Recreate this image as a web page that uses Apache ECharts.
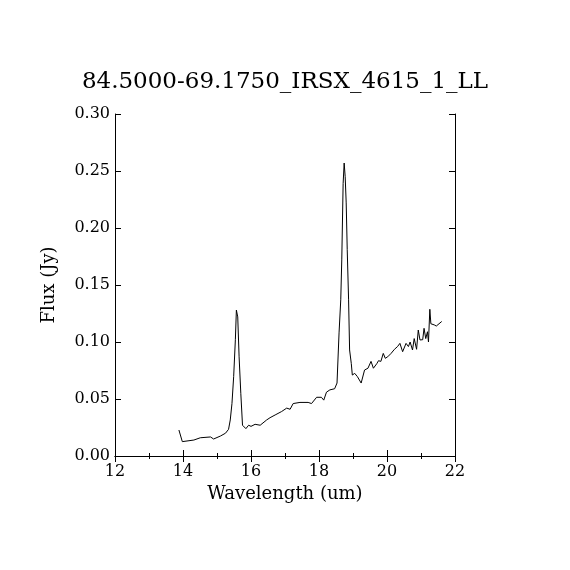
<!DOCTYPE html>
<html>
<head>
<meta charset="utf-8">
<script src="https://cdn.jsdelivr.net/npm/echarts@6/dist/echarts.min.js"></script>
<style>
  html, body { margin: 0; padding: 0; background: #fff; }
  #chart { width: 570px; height: 570px; }
</style>
</head>
<body>
<div id="chart"></div>
<script>
// Spectrum
const wavelength = [
  13.88, 13.98, 14.32, 14.51, 14.81, 14.90, 15.10, 15.25, 15.34, 15.39,
  15.44, 15.49, 15.54, 15.57, 15.61, 15.65, 15.70, 15.75, 15.85, 15.93,
  16.00, 16.12, 16.27, 16.46, 16.56, 16.71, 16.76, 16.90, 17.05, 17.15,
  17.24, 17.44, 17.68, 17.78, 17.93, 18.07, 18.14, 18.22, 18.32, 18.46,
  18.53, 18.59, 18.64, 18.67, 18.71, 18.74, 18.77, 18.80, 18.83, 18.87,
  18.90, 18.95, 18.98, 19.05, 19.13, 19.24, 19.34, 19.44, 19.48, 19.53,
  19.60, 19.70, 19.75, 19.82, 19.89, 19.95, 20.02, 20.12, 20.22, 20.31,
  20.38, 20.46, 20.56, 20.63, 20.68, 20.75, 20.80, 20.87, 20.92, 20.97,
  21.05, 21.09, 21.14, 21.19, 21.22, 21.26, 21.29, 21.39, 21.45, 21.61,
];
const flux = [
  0.0228, 0.0126, 0.0140, 0.0160, 0.0167, 0.0149, 0.0175, 0.0200, 0.0234, 0.0316,
  0.0460, 0.0696, 0.1020, 0.1280, 0.1220, 0.0870, 0.0550, 0.0270, 0.0240, 0.0270,
  0.0260, 0.0278, 0.0270, 0.0316, 0.0336, 0.0360, 0.0374, 0.0390, 0.0420, 0.0410,
  0.0460, 0.0470, 0.0470, 0.0460, 0.0515, 0.0515, 0.0490, 0.0560, 0.0580, 0.0590,
  0.0640, 0.1080, 0.1370, 0.1720, 0.2390, 0.2570, 0.2450, 0.2220, 0.1810, 0.1370,
  0.0930, 0.0810, 0.0710, 0.0725, 0.0696, 0.0640, 0.0754, 0.0770, 0.0780, 0.0830,
  0.0770, 0.0810, 0.0836, 0.0830, 0.0900, 0.0857, 0.0870, 0.0900, 0.0936, 0.0960,
  0.0988, 0.0915, 0.0988, 0.0960, 0.1000, 0.0930, 0.1030, 0.0936, 0.1105, 0.1018,
  0.1020, 0.1120, 0.1030, 0.1090, 0.1000, 0.1287, 0.1160, 0.1150, 0.1140, 0.1180,
];
const titleText = "84.5000-69.1750_IRSX_4615_1_LL";

const FONT = "DejaVu Serif";
const lineStyle = { color: "#000", width: 1 };

const chart = echarts.init(document.getElementById("chart"));

chart.setOption({
  animation: false,
  backgroundColor: "#fff",
  title: {
    text: titleText,
    left: "center",
    top: 66,
    textStyle: { fontFamily: FONT, fontSize: 23, fontWeight: "normal", color: "#000" },
  },
  grid: { left: 115, right: 115, top: 114, bottom: 114 },
  xAxis: [
    {
      type: "value",
      min: 12,
      max: 22,
      interval: 2,
      position: "bottom",
      name: "Wavelength (um)",
      nameLocation: "middle",
      nameGap: 29,
      nameTextStyle: { fontFamily: FONT, fontSize: 18, color: "#000" },
      axisLine: { lineStyle },
      axisTick: { inside: true, length: 6, lineStyle },
      minorTick: { show: true, splitNumber: 2, length: 3, lineStyle },
      axisLabel: { fontFamily: FONT, fontSize: 16, color: "#000", margin: 8 },
      splitLine: { show: false },
    },
    {
      type: "value",
      min: 12,
      max: 22,
      interval: 2,
      position: "top",
      axisLine: { lineStyle },
      axisTick: { inside: true, length: 6, lineStyle },
      minorTick: { show: true, splitNumber: 2, length: 3, lineStyle },
      axisLabel: { show: false },
      splitLine: { show: false },
    },
  ],
  yAxis: [
    {
      type: "value",
      min: 0,
      max: 0.3,
      interval: 0.05,
      position: "left",
      name: "Flux (Jy)",
      nameLocation: "middle",
      nameGap: 57,
      nameTextStyle: { fontFamily: FONT, fontSize: 18, color: "#000" },
      axisLine: { show: true, lineStyle },
      axisTick: { show: true, inside: true, length: 6, lineStyle },
      axisLabel: {
        fontFamily: FONT,
        fontSize: 16,
        color: "#000",
        margin: 5,
        formatter: (v) => v.toFixed(2),
      },
      splitLine: { show: false },
    },
    {
      type: "value",
      min: 0,
      max: 0.3,
      interval: 0.05,
      position: "right",
      axisLine: { show: true, lineStyle },
      axisTick: { show: true, inside: true, length: 6, lineStyle },
      axisLabel: { show: false },
      splitLine: { show: false },
    },
  ],
  series: [
    {
      type: "line",
      xAxisIndex: 0,
      yAxisIndex: 0,
      data: wavelength.map((w, i) => [w, flux[i]]),
      showSymbol: false,
      lineStyle: { color: "#000", width: 1 },
    },
  ],
});
</script>
</body>
</html>
